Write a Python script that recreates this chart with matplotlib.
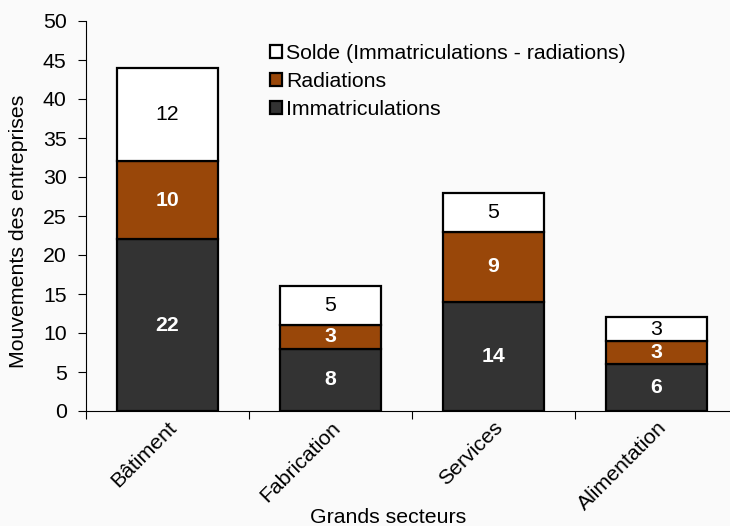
import matplotlib
matplotlib.use("Agg")
import matplotlib.pyplot as plt
import numpy as np
from matplotlib.patches import Patch

categories = ["Bâtiment", "Fabrication", "Services", "Alimentation"]
immatriculations = [22, 8, 14, 6]
radiations = [10, 3, 9, 3]
solde = [12, 5, 5, 3]

plt.rcParams['font.family'] = ['Liberation Sans', 'DejaVu Sans']
bg = '#fafafa'
c_imm = '#333333'
c_rad = '#994709'
c_sol = '#ffffff'

fig = plt.figure(figsize=(7.3, 5.26), dpi=100, facecolor=bg)
ax = fig.add_axes([86/730, 1 - 411/526, (738-86)/730, (411-21)/526])
ax.set_facecolor(bg)

x = np.arange(len(categories))
w = 0.62
kw = dict(width=w, edgecolor='black', linewidth=1.6, zorder=3)
ax.bar(x, immatriculations, color=c_imm, **kw)
ax.bar(x, radiations, bottom=immatriculations, color=c_rad, **kw)
bot2 = np.array(immatriculations) + np.array(radiations)
ax.bar(x, solde, bottom=bot2, color=c_sol, **kw)

fs = 15.3
for i in range(len(x)):
    ax.text(x[i], immatriculations[i] / 2, str(immatriculations[i]), ha='center', va='center',
            color='white', fontweight='bold', fontsize=fs, zorder=4)
    ax.text(x[i], immatriculations[i] + radiations[i] / 2, str(radiations[i]), ha='center', va='center',
            color='white', fontweight='bold', fontsize=fs, zorder=4)
    ax.text(x[i], bot2[i] + solde[i] / 2, str(solde[i]), ha='center', va='center',
            color='black', fontsize=fs, zorder=4)

ax.set_xlim(-0.5, len(categories) - 0.5)
ax.set_ylim(0, 50)
ax.set_yticks(np.arange(0, 51, 5))
ax.tick_params(axis='y', labelsize=fs, length=6, width=0.8, direction='out', pad=8)

ax.set_xticks(x)
ax.set_xticklabels(categories, rotation=45, ha='right', rotation_mode='anchor', fontsize=fs)
ax.tick_params(axis='x', which='major', length=0, pad=5)
ax.set_xticks(np.arange(-0.5, len(categories), 1), minor=True)
ax.tick_params(axis='x', which='minor', length=6, width=0.8, direction='out')

for s in ['top', 'right']:
    ax.spines[s].set_visible(False)
for s in ['left', 'bottom']:
    ax.spines[s].set_linewidth(0.8)

ax.set_ylabel("Mouvements des entreprises", fontsize=fs)
ax.yaxis.set_label_coords((28-86)/652, (411-231)/390)
ax.set_xlabel("Grands secteurs", fontsize=fs)
ax.xaxis.set_label_coords((388-86)/652, (411-508)/390)

handles = [Patch(facecolor=c_sol, edgecolor='black', linewidth=1.6),
           Patch(facecolor=c_rad, edgecolor='black', linewidth=1.6),
           Patch(facecolor=c_imm, edgecolor='black', linewidth=1.6)]
labels = ["Solde (Immatriculations - radiations)", "Radiations", "Immatriculations"]
ax.legend(handles, labels, loc='upper left', bbox_to_anchor=(184/652, 0.94),
          frameon=False, fontsize=fs, handlelength=0.55, handleheight=0.55,
          handletextpad=0.2, labelspacing=0.42, borderaxespad=0, borderpad=0)

fig.savefig("out.png", dpi=100, facecolor=bg)
